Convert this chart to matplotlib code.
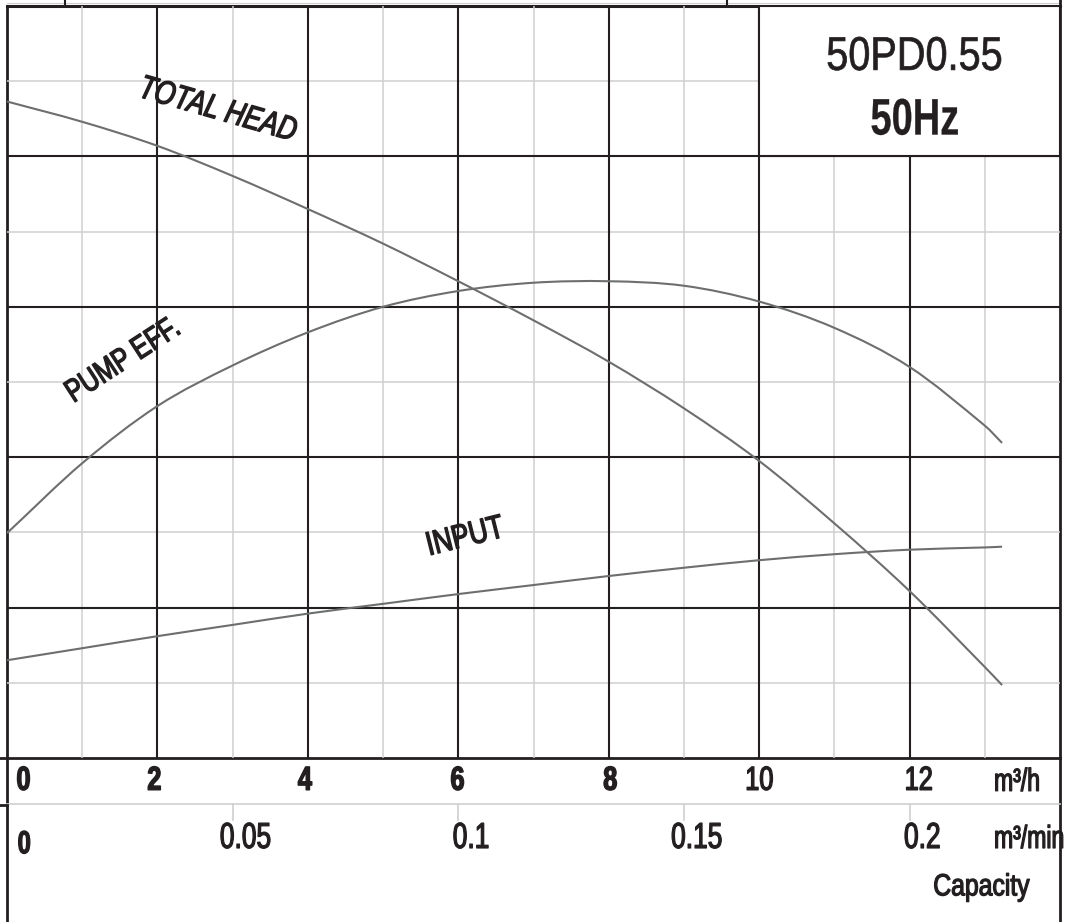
import matplotlib
matplotlib.use("Agg")
import matplotlib.pyplot as plt
from matplotlib.patches import Rectangle, PathPatch
from matplotlib.path import Path
from matplotlib.patheffects import AbstractPathEffect
from matplotlib.transforms import Affine2D

# ---------------- data ----------------
flow = [0, 1, 2, 3, 4, 5, 6, 7, 8, 9, 10, 11, 12, 13, 13.23]          # m3/h
total_head = [8.73, 8.46, 8.14, 7.74, 7.30, 6.84, 6.34, 5.82, 5.27, 4.65, 3.95, 3.12, 2.22, 1.21, 0.97]
pump_eff = [2.99, 3.92, 4.68, 5.22, 5.66, 6.00, 6.21, 6.32, 6.34, 6.28, 6.07, 5.72, 5.20, 4.42, 4.19]
input_pw = [1.30, 1.46, 1.62, 1.77, 1.92, 2.05, 2.18, 2.30, 2.42, 2.53, 2.63, 2.71, 2.77, 2.80, 2.81]

xh_ticks = [0, 2, 4, 6, 8, 10, 12]
xh_labels = ["0", "2", "4", "6", "8", "10", "12"]
xmin_ticks = [0.0, 0.05, 0.1, 0.15, 0.2]          # m3/min
xmin_labels = ["0", "0.05", "0.1", "0.15", "0.2"]

title1 = "50PD0.55"
title2 = "50Hz"

plt.rcParams["font.family"] = ["Liberation Sans", "DejaVu Sans"]

DARK = "#231f20"
LIGHT = "#cfcfcf"
CURVE = "#6d6e70"


class Narrow(AbstractPathEffect):
    """Draw the text condensed horizontally (optionally emboldened)."""
    def __init__(self, s=0.8, w=0.0, anchor="center"):
        super().__init__()
        self.s = s
        self.w = w
        self.anchor = anchor

    def draw_path(self, renderer, gc, tpath, affine, rgbFace=None):
        ext = tpath.get_extents()
        if self.anchor == "right":
            cx = ext.x1
        elif self.anchor == "left":
            cx = ext.x0
        else:
            cx = 0.5 * (ext.x0 + ext.x1)
        a = Affine2D().translate(-cx, 0).scale(self.s, 1).translate(cx, 0) + affine
        if self.w > 0:
            gc0 = renderer.new_gc()
            gc0.copy_properties(gc)
            gc0.set_linewidth(self.w)
            gc0.set_foreground(rgbFace)
            gc0.set_joinstyle("round")
            renderer.draw_path(gc0, tpath, a, rgbFace)
            gc0.restore()
        else:
            renderer.draw_path(gc, tpath, a, rgbFace)


def ntext(ax, x, y, s, squeeze=0.8, weight_px=0.0, **kw):
    kw.setdefault("ha", "center")
    kw.setdefault("va", "center")
    kw.setdefault("color", DARK)
    t = ax.text(x, y, s, **kw)
    t.set_path_effects([Narrow(squeeze, weight_px, kw["ha"])])
    return t


def smooth_curve(ax, xs, ys, **kw):
    # Catmull-Rom spline through the read points, drawn as cubic Beziers
    n = len(xs)
    verts = [(xs[0], ys[0])]
    codes = [Path.MOVETO]
    for i in range(n - 1):
        x0, y0 = (xs[i - 1], ys[i - 1]) if i > 0 else (xs[i], ys[i])
        x1, y1 = xs[i], ys[i]
        x2, y2 = xs[i + 1], ys[i + 1]
        x3, y3 = (xs[i + 2], ys[i + 2]) if i + 2 < n else (xs[i + 1], ys[i + 1])
        h = x2 - x1
        m1 = (y2 - y0) / (x2 - x0)
        m2 = (y3 - y1) / (x3 - x1)
        verts += [(x1 + h / 3, y1 + m1 * h / 3), (x2 - h / 3, y2 - m2 * h / 3), (x2, y2)]
        codes += [Path.CURVE4] * 3
    ax.add_patch(PathPatch(Path(verts, codes), fill=False, **kw))


W, H = 1068, 922
fig = plt.figure(figsize=(W / 100, H / 100), dpi=100)
fig.patch.set_facecolor("white")

ov = fig.add_axes([0, 0, 1, 1])
ov.set_xlim(0, W)
ov.set_ylim(H, 0)
ov.axis("off")

L, R, T, B = 7, 1060, 6, 758
ax = fig.add_axes([L / W, (H - B) / H, (R - L) / W, (B - T) / H])
ax.set_xlim(0, 14)
ax.set_ylim(0, 10)
ax.axis("off")

# grid
for v in range(1, 14, 2):
    ax.axvline(v, color=LIGHT, lw=1.1, zorder=1)
for v in range(1, 10, 2):
    ax.axhline(v, color=LIGHT, lw=1.1, zorder=1)
for v in range(2, 14, 2):
    ax.axvline(v, color=DARK, lw=1.5, zorder=2)
for v in range(2, 10, 2):
    ax.axhline(v, color=DARK, lw=1.5, zorder=2)

# title box
ax.add_patch(Rectangle((10, 8), 4, 2, facecolor="white", edgecolor=DARK, lw=1.5, zorder=3))
ntext(ax, 12.07, 9.31, title1, squeeze=0.84, weight_px=0.5, fontsize=34, zorder=4)
ntext(ax, 12.07, 8.47, title2, squeeze=0.74, weight_px=0.2, fontsize=37,
      fontweight="bold", zorder=4)

# curves
for series in (total_head, pump_eff, input_pw):
    smooth_curve(ax, flow, series, edgecolor=CURVE, lw=1.5, zorder=5, capstyle="butt")

# curve labels
ntext(ax, 2.80, 8.61, "TOTAL HEAD", squeeze=0.79, weight_px=1.0, rotation=-16,
      fontsize=24, style="italic", zorder=6)
ntext(ax, 1.55, 5.28, "PUMP EFF.", squeeze=0.78, weight_px=1.0, rotation=33,
      fontsize=23, zorder=6)
ntext(ax, 6.09, 2.93, "INPUT", squeeze=0.79, weight_px=1.0, rotation=14,
      fontsize=24, zorder=6)

# frame lines
ov.plot([L, R], [T, T], color=DARK, lw=2.2)
ov.plot([L, R], [T - 2.5, T - 2.5], color=LIGHT, lw=0.8)
ov.plot([0, R], [B, B], color=DARK, lw=2.0)
ov.plot([L, L], [T, H], color=DARK, lw=2.0)
ov.plot([R, R], [0, H], color=DARK, lw=2.0)
ov.plot([65, 65], [0, T], color=DARK, lw=1.5)
ov.plot([727, 727], [0, T], color=DARK, lw=1.5)
ov.plot([L, R], [804, 804], color=LIGHT, lw=1.2)
ov.plot([0, L], [805, 805], color=DARK, lw=2.0)

# m3/h labels
xh_offsets = [0.22, -0.04, -0.04, -0.01, 0.02, 0.0, 0.12]
for v, lab, off in zip(xh_ticks, xh_labels, xh_offsets):
    bold = v <= 8
    ntext(ax, v + off, -0.31, lab, squeeze=0.76, weight_px=1.0,
          fontsize=24, fontweight="bold" if bold else "normal", clip_on=False)
ntext(ax, 13.43, -0.33, "m³/h", squeeze=0.72, weight_px=0.9, fontsize=23, clip_on=False)

# m3/min labels and ticks
for v, lab in zip(xmin_ticks, xmin_labels):
    q = v * 60
    if v > 0:
        ov.plot([L + q * (R - L) / 14] * 2, [804, 820], color=LIGHT, lw=1.2)
        ntext(ax, q + 0.17, -1.07, lab, squeeze=0.73, weight_px=0.9, fontsize=26,
              clip_on=False)
    else:
        ntext(ax, 0.23, -1.16, lab, squeeze=0.74, weight_px=0.9, fontsize=23,
              fontweight="bold", clip_on=False)
ntext(ax, 14.07, -1.09, "m³/min", squeeze=0.72, weight_px=0.9, fontsize=23,
      ha="right", clip_on=False)
ntext(ax, 12.95, -1.72, "Capacity", squeeze=0.81, weight_px=0.9, fontsize=22, clip_on=False)

fig.savefig("out.png", dpi=100, facecolor="white")
